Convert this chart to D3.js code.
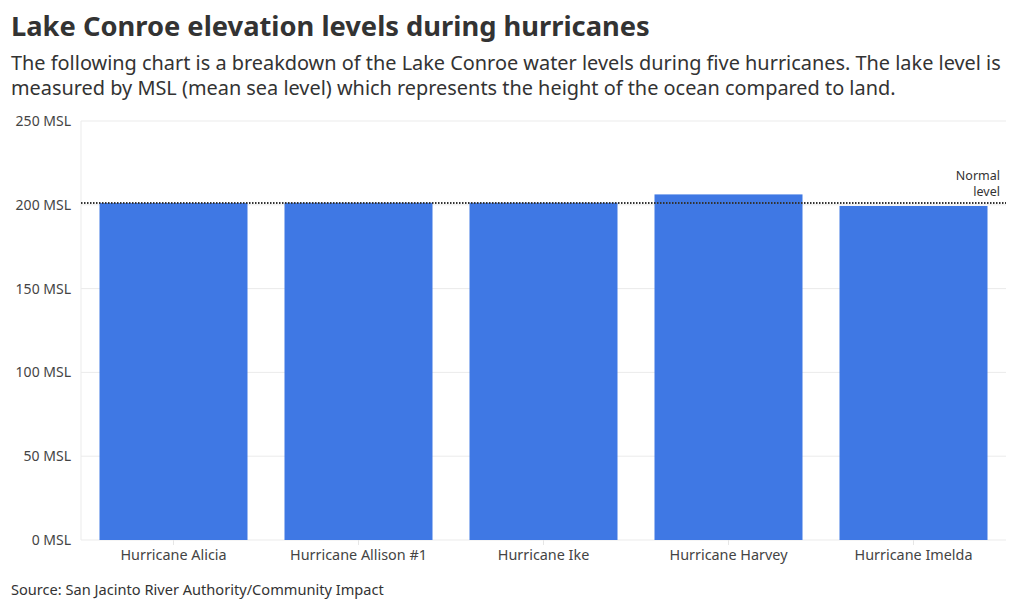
<!DOCTYPE html>
<html>
<head>
<meta charset="utf-8">
<script src="https://cdn.jsdelivr.net/npm/d3@7"></script>
<style>
	body { margin: 0; background: #fff; }
	text { font-family: "Noto Sans", sans-serif; }
</style>
</head>
<body>
<svg id="chart" width="1020" height="609"></svg>
<script>
'use strict';

// hurricanes and peak lake level (MSL)
var hurricanes = ['Hurricane Alicia', 'Hurricane Allison #1', 'Hurricane Ike', 'Hurricane Harvey', 'Hurricane Imelda'];
var levels = [201.1, 201.2, 201.2, 206.2, 199.3];
var normalLevel = 201;
var yTicks = [0, 50, 100, 150, 200, 250];
var normalLabel = ['Normal', 'level'];

var width = 1020, height = 609;
var margin = {top: 121, right: 14, bottom: 69, left: 81};

var svg = d3.select('#chart');

svg.append('text')
	.attr('x', 11).attr('y', 36)
	.style('font-size', '27.3px').style('font-weight', 700).style('fill', '#333')
	.text('Lake Conroe elevation levels during hurricanes');

var sub = svg.append('text')
	.attr('x', 11).attr('y', 70)
	.style('font-size', '19.9px').style('fill', '#333');
sub.append('tspan').attr('x', 11).attr('dy', 0)
	.text('The following chart is a breakdown of the Lake Conroe water levels during five hurricanes. The lake level is');
sub.append('tspan').attr('x', 11).attr('dy', 25)
	.text('measured by MSL (mean sea level) which represents the height of the ocean compared to land.');

var x = d3.scaleBand()
	.domain(hurricanes)
	.range([margin.left, width - margin.right])
	.paddingInner(0.2)
	.paddingOuter(0.1);

var y = d3.scaleLinear()
	.domain([0, 250])
	.range([height - margin.bottom, margin.top]);

// grid
svg.append('g').selectAll('line')
	.data(yTicks)
	.enter()
	.append('line')
	.attr('x1', margin.left).attr('x2', width - margin.right)
	.attr('y1', function(d) { return y(d); })
	.attr('y2', function(d) { return y(d); })
	.style('stroke', '#ebebeb');

svg.append('line')
	.attr('x1', margin.left).attr('x2', margin.left)
	.attr('y1', margin.top).attr('y2', y(0))
	.style('stroke', '#ebebeb');

// y labels
svg.append('g').selectAll('text')
	.data(yTicks)
	.enter()
	.append('text')
	.attr('x', margin.left - 10)
	.attr('y', function(d) { return y(d); })
	.attr('dy', '0.35em')
	.attr('text-anchor', 'end')
	.style('font-size', '14px').style('fill', '#444')
	.text(function(d) { return d + ' MSL'; });

// bars
svg.append('g').selectAll('rect')
	.data(levels)
	.enter()
	.append('rect')
	.attr('x', function(d, i) { return x(hurricanes[i]); })
	.attr('width', x.bandwidth())
	.attr('y', function(d) { return y(d); })
	.attr('height', function(d) { return y(0) - y(d); })
	.style('fill', '#3f78e4');

// x ticks and labels
var xg = svg.append('g').selectAll('g')
	.data(hurricanes)
	.enter()
	.append('g')
	.attr('transform', function(d) { return 'translate(' + (x(d) + x.bandwidth() / 2) + ',' + y(0) + ')'; });
xg.append('line').attr('y2', 5).style('stroke', '#e6e6e6');
xg.append('text')
	.attr('y', 20)
	.attr('text-anchor', 'middle')
	.style('font-size', '14.4px').style('fill', '#444')
	.text(function(d) { return d; });

// normal level
svg.append('line')
	.attr('x1', margin.left).attr('x2', width - margin.right)
	.attr('y1', y(normalLevel)).attr('y2', y(normalLevel))
	.style('stroke', '#333')
	.style('stroke-width', 2)
	.style('stroke-dasharray', '1.5,1.5');

svg.append('g').selectAll('text')
	.data(normalLabel)
	.enter()
	.append('text')
	.attr('x', 1000)
	.attr('y', function(d, i) { return y(normalLevel) - 23 + i * 16; })
	.attr('text-anchor', 'end')
	.style('font-size', '12.5px').style('fill', '#333')
	.text(function(d) { return d; });

svg.append('text')
	.attr('x', 11).attr('y', 595)
	.style('font-size', '14.6px').style('fill', '#333')
	.text('Source: San Jacinto River Authority/Community Impact');
</script>
</body>
</html>
